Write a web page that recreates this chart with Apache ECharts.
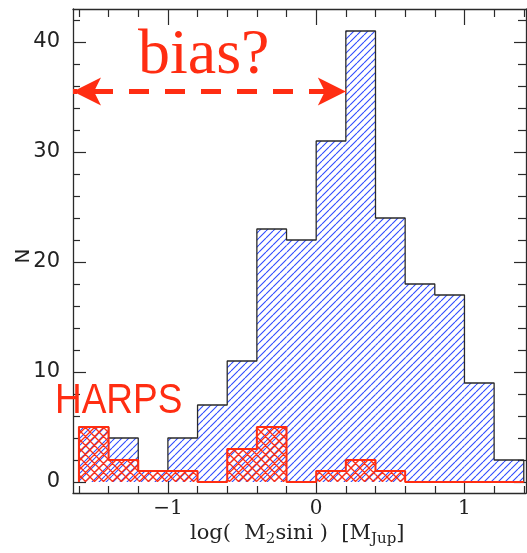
<!DOCTYPE html>
<html>
<head>
<meta charset="utf-8">
<script src="https://cdn.jsdelivr.net/npm/echarts@6/dist/echarts.min.js"></script>
<style>
  html, body { margin: 0; padding: 0; background: #fff; }
  #chart { width: 527px; height: 553px; }
</style>
</head>
<body>
<div id="chart"></div>
<script>
// Histogram of log(M2 sin i): all known planets vs. HARPS detections
const binEdges    = [-1.6, -1.4, -1.2, -1.0, -0.8, -0.6, -0.4, -0.2, 0, 0.2, 0.4, 0.6, 0.8, 1.0, 1.2, 1.4];
const allCounts   = [5, 4, 1, 4, 7, 11, 23, 22, 31, 41, 24, 18, 17, 9, 2];
const harpsCounts = [5, 2, 1, 1, 0, 3, 5, 0, 1, 2, 1, 0, 0, 0, 0];

const xRange = [-1.64, 1.415];
const yRange = [-1, 43];
const xMajorTicks = [-1, 0, 1];
const xMinorTicks = [-1.6, -1.4, -1.2, -0.8, -0.6, -0.4, -0.2, 0.2, 0.4, 0.6, 0.8, 1.2, 1.4];
const yMajorTicks = [0, 10, 20, 30, 40];
const yMinorTicks = [2, 4, 6, 8, 12, 14, 16, 18, 22, 24, 26, 28, 32, 34, 36, 38, 42];

// dashed "bias?" arrow: from the left edge of the axis to the 0.2 bin edge
const biasLevel = 35.5;
const biasEnd = 0.2;

const RED = '#ff2d12';
const BLUE = '#2f4cff';
const FRAME = '#2a2a2a';

function hatch(size, color, width, cross) {
  const c = document.createElement('canvas');
  c.width = c.height = size;
  const g = c.getContext('2d');
  g.strokeStyle = color;
  g.lineWidth = width;
  g.beginPath();
  for (const o of [-size, 0, size]) {
    g.moveTo(o, size); g.lineTo(o + size, 0);
    if (cross) { g.moveTo(o, 0); g.lineTo(o + size, size); }
  }
  g.stroke();
  return { image: c, repeat: 'repeat' };
}
const blueHatch = hatch(7, BLUE, 1.1, false);
const redHatch = hatch(9, RED, 1.3, true);

function bins(counts) {
  return counts.map((c, i) => [binEdges[i], binEdges[i + 1], c]);
}
function outline(counts) {
  const pts = [[binEdges[0], 0]];
  counts.forEach((c, i) => pts.push([binEdges[i], c]));
  pts.push([binEdges[binEdges.length - 1], counts[counts.length - 1]]);
  pts.push([binEdges[binEdges.length - 1], 0]);
  return pts;
}
function histRender(fill) {
  return function (params, api) {
    const top = api.coord([api.value(0), api.value(2)]);
    const bot = api.coord([api.value(1), 0]);
    return {
      type: 'rect',
      shape: { x: top[0], y: top[1], width: bot[0] - top[0], height: bot[1] - top[1] },
      style: { fill: fill }
    };
  };
}

function xAxisDef(pos, ticks, len, labels, line) {
  return {
    type: 'value', position: pos, min: xRange[0], max: xRange[1],
    axisLine: { show: line, onZero: false, lineStyle: { color: FRAME, width: 1.3 } },
    axisTick: { show: true, inside: true, length: len, customValues: ticks, lineStyle: { color: FRAME, width: 1.2 } },
    axisLabel: labels ? {
      show: true, customValues: ticks, margin: 6, color: '#222',
      fontFamily: 'DejaVu Serif', fontSize: 20,
      formatter: v => (v < 0 ? '\u2212' + (-v) : String(v))
    } : { show: false },
    splitLine: { show: false }
  };
}
function yAxisDef(pos, ticks, len, labels, line) {
  return {
    type: 'value', position: pos, min: yRange[0], max: yRange[1],
    axisLine: { show: line, onZero: false, lineStyle: { color: FRAME, width: 1.3 } },
    axisTick: { show: true, inside: true, length: len, customValues: ticks, lineStyle: { color: FRAME, width: 1.2 } },
    axisLabel: labels ? {
      show: true, customValues: ticks, margin: 13, color: '#222',
      fontFamily: 'DejaVu Sans', fontSize: 21
    } : { show: false },
    splitLine: { show: false }
  };
}

const chart = echarts.init(document.getElementById('chart'), null, { renderer: 'canvas' });
chart.setOption({
  animation: false,
  backgroundColor: '#fff',
  grid: { left: 73, top: 9, width: 453, height: 484, outerBoundsMode: 'none', containLabel: false },
  xAxis: [
    xAxisDef('bottom', xMajorTicks, 12, true, true),
    xAxisDef('bottom', xMinorTicks, 7, false, false),
    xAxisDef('top', xMajorTicks, 16, false, true),
    xAxisDef('top', xMinorTicks, 8, false, false)
  ],
  yAxis: [
    yAxisDef('left', yMajorTicks, 13, true, true),
    yAxisDef('left', yMinorTicks, 7, false, false),
    yAxisDef('right', yMajorTicks, 12, false, true),
    yAxisDef('right', yMinorTicks, 8, false, false)
  ],
  series: [
    {
      name: 'all', type: 'custom', renderItem: histRender(blueHatch),
      encode: { x: [0, 1], y: 2 }, data: bins(allCounts), z: 2
    },
    {
      name: 'HARPS', type: 'custom', renderItem: histRender(redHatch),
      encode: { x: [0, 1], y: 2 }, data: bins(harpsCounts), z: 3
    },
    {
      name: 'all outline', type: 'line', step: 'end', data: outline(allCounts),
      symbol: 'none', lineStyle: { color: FRAME, width: 1.3 }, z: 4
    },
    {
      name: 'HARPS outline', type: 'line', step: 'end', data: outline(harpsCounts),
      symbol: 'none', lineStyle: { color: RED, width: 2 }, z: 5,
      markLine: {
        silent: true,
        symbol: ['arrow', 'arrow'],
        symbolSize: [21, 28],
        label: { show: false },
        lineStyle: { color: RED, width: 5, type: [20, 16], dashOffset: 16, opacity: 1 },
        itemStyle: { color: RED },
        data: [[{ coord: [xRange[0], biasLevel] }, { coord: [biasEnd, biasLevel] }]]
      }
    }
  ],
  graphic: [
    {
      type: 'text', x: 138, y: 56.5, z: 10,
      style: { text: 'bias?', fill: RED, font: '64px "Liberation Serif"', verticalAlign: 'middle' }
    },
    {
      type: 'text', x: 55, y: 401.5, scaleX: 0.86, z: 10,
      style: { text: 'HARPS', fill: RED, font: '43px "Liberation Sans"', verticalAlign: 'middle' }
    },
    {
      type: 'text', x: 24, y: 256, rotation: Math.PI / 2, z: 10,
      style: { text: 'N', fill: '#222', font: '20px "DejaVu Sans"', align: 'center', verticalAlign: 'middle' }
    },
    {
      type: 'text', x: 190, y: 534, z: 10,
      style: {
        text: '{a|log(  M}{s|2}{a|sini )  [M}{s|Jup}{a|]}',
        fill: '#222', verticalAlign: 'middle',
        rich: {
          a: { fontFamily: 'DejaVu Serif', fontSize: 21, lineHeight: 26, verticalAlign: 'middle', fill: '#222' },
          s: { fontFamily: 'DejaVu Serif', fontSize: 15, lineHeight: 15, verticalAlign: 'bottom', fill: '#222' }
        }
      }
    }
  ]
});
</script>
</body>
</html>
